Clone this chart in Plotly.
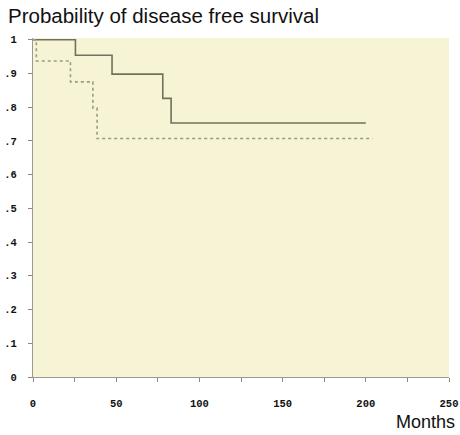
import plotly.graph_objects as go

# Step survival curves (months, probability)
solid_months = [0, 25.5, 47.5, 78, 83, 200]
solid_prob = [1.0, 0.954, 0.898, 0.826, 0.753, 0.753]
dotted_months = [0, 2, 22.5, 36, 38.5, 204]
dotted_prob = [1.0, 0.937, 0.875, 0.797, 0.707, 0.707]

x_tick_vals = [0, 25, 50, 75, 100, 125, 150, 175, 200, 225, 250]
x_tick_text = ["0", "", "50", "", "100", "", "150", "", "200", "", "250"]
y_tick_vals = [0, 0.1, 0.2, 0.3, 0.4, 0.5, 0.6, 0.7, 0.8, 0.9, 1.0]
y_tick_text = ["0", ".1", ".2", ".3", ".4", ".5", ".6", ".7", ".8", ".9", "1"]

fig = go.Figure()
fig.add_trace(go.Scatter(x=solid_months, y=solid_prob, mode="lines",
                         line=dict(shape="hv", color="#70705f", width=1.6),
                         showlegend=False))
fig.add_trace(go.Scatter(x=dotted_months, y=dotted_prob, mode="lines",
                         line=dict(shape="hv", color="#9a9a85", width=1.6, dash="dot"),
                         showlegend=False))

tickfont = dict(family="Liberation Mono", size=10.5, color="#111111", weight="bold")
fig.update_layout(
    width=460, height=435,
    margin=dict(l=33, r=11, t=38, b=58, autoexpand=False),
    paper_bgcolor="white",
    plot_bgcolor="#f7f4d6",
    xaxis=dict(range=[0, 250], tickvals=x_tick_vals, ticktext=x_tick_text,
               ticks="outside", ticklen=4, tickcolor="#888888", tickwidth=1,
               showline=True, linecolor="#999999", linewidth=1,
               showgrid=False, zeroline=False, tickfont=tickfont,
               ticklabelstandoff=12, automargin=False),
    yaxis=dict(range=[0, 1.005], tickvals=y_tick_vals, ticktext=y_tick_text,
               ticks="outside", ticklen=4, tickcolor="#888888", tickwidth=1,
               showline=True, linecolor="#999999", linewidth=1,
               showgrid=False, zeroline=False, tickfont=tickfont,
               ticklabelstandoff=9, automargin=False),
    annotations=[
        dict(text="Probability of disease free survival", xref="paper", yref="paper",
             x=-0.066, y=1.0, xanchor="left", yanchor="bottom", yshift=9,
             showarrow=False, font=dict(family="Liberation Sans", size=20.5, color="#111111")),
        dict(text="Months", xref="paper", yref="paper", x=1.02, y=0,
             xanchor="right", yanchor="top", yshift=-33,
             showarrow=False, font=dict(family="Liberation Sans", size=18, color="#111111")),
    ],
)

fig.write_html("out.html", config={"displayModeBar": False},
               post_script="document.body.style.margin='0px';document.body.style.overflow='hidden';")
